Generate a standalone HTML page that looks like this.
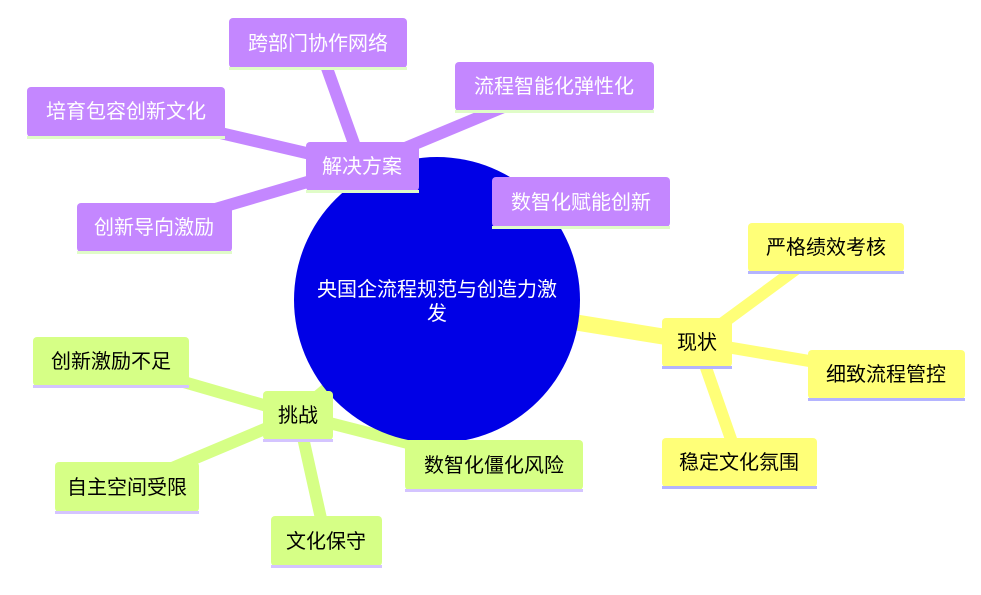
<!DOCTYPE html>
<html><head><meta charset="utf-8"><style>
body{margin:0;background:#fff;width:981px;height:590px;overflow:hidden}
svg text{font-family:"Liberation Sans","Noto Sans CJK SC",sans-serif;font-size:20px;text-anchor:middle;dominant-baseline:central}
</style></head><body>
<svg width="981" height="590" xmlns="http://www.w3.org/2000/svg">
<g stroke-linecap="round">
<g stroke="#c487ff">
<line x1="437" y1="300" x2="362" y2="166" stroke-width="16"/>
<line x1="362" y1="166" x2="318" y2="43" stroke-width="12"/>
<line x1="362" y1="166" x2="554" y2="86" stroke-width="12"/>
<line x1="362" y1="166" x2="126" y2="111" stroke-width="12"/>
<line x1="362" y1="166" x2="154" y2="227" stroke-width="12"/>
</g>
<g stroke="#ffff78">
<line x1="437" y1="300" x2="697" y2="342" stroke-width="16"/>
<line x1="697" y1="342" x2="826" y2="247" stroke-width="12"/>
<line x1="697" y1="342" x2="886" y2="374" stroke-width="12"/>
<line x1="697" y1="342" x2="739" y2="462" stroke-width="12"/>
</g>
<g stroke="#d6ff86">
<line x1="437" y1="300" x2="298" y2="415" stroke-width="16"/>
<line x1="298" y1="415" x2="111" y2="361" stroke-width="12"/>
<line x1="298" y1="415" x2="127" y2="487" stroke-width="12"/>
<line x1="298" y1="415" x2="326" y2="541" stroke-width="12"/>
<line x1="298" y1="415" x2="494" y2="465" stroke-width="12"/>
</g>
</g>
<circle cx="437" cy="300" r="143" fill="#0000e6"/>
<text x="437" y="290" fill="#fff">央国企流程规范与创造力激</text>
<text x="437" y="314" fill="#fff">发</text>

<g fill="#c487ff">
<rect x="229" y="18" width="178" height="50" rx="4"/>
<rect x="455" y="62" width="199" height="49" rx="4"/>
<rect x="27" y="87" width="198" height="50" rx="4"/>
<rect x="306" y="142" width="113" height="49" rx="4"/>
<rect x="492" y="177" width="178" height="50" rx="4"/>
<rect x="77" y="203" width="155" height="49" rx="4"/>
</g>
<g fill="#e0fcc8">
<rect x="229" y="67" width="178" height="3"/>
<rect x="455" y="110" width="199" height="3"/>
<rect x="27" y="136" width="198" height="3"/>
<rect x="306" y="190" width="113" height="3"/>
<rect x="492" y="226" width="178" height="3"/>
<rect x="77" y="251" width="155" height="3"/>
</g>
<g fill="#fff">
<text x="318" y="44">跨部门协作网络</text>
<text x="554" y="87">流程智能化弹性化</text>
<text x="126" y="112">培育包容创新文化</text>
<text x="362" y="167">解决方案</text>
<text x="581" y="203">数智化赋能创新</text>
<text x="154" y="228">创新导向激励</text>
</g>

<g fill="#ffff78">
<rect x="748" y="223" width="156" height="49" rx="4"/>
<rect x="662" y="318" width="70" height="49" rx="4"/>
<rect x="808" y="350" width="157" height="49" rx="4"/>
<rect x="662" y="438" width="155" height="49" rx="4"/>
</g>
<g fill="#b4b4ff">
<rect x="748" y="271" width="156" height="3"/>
<rect x="662" y="366" width="70" height="3"/>
<rect x="808" y="398" width="157" height="3"/>
<rect x="662" y="486" width="155" height="3"/>
</g>
<g fill="#000">
<text x="826" y="248">严格绩效考核</text>
<text x="697" y="343">现状</text>
<text x="886" y="375">细致流程管控</text>
<text x="739" y="463">稳定文化氛围</text>
</g>

<g fill="#d6ff86">
<rect x="33" y="337" width="156" height="49" rx="4"/>
<rect x="263" y="391" width="70" height="49" rx="4"/>
<rect x="55" y="462" width="144" height="50" rx="4"/>
<rect x="405" y="440" width="178" height="50" rx="4"/>
<rect x="271" y="516" width="111" height="50" rx="4"/>
</g>
<g fill="#d4c4ff">
<rect x="33" y="385" width="156" height="3"/>
<rect x="263" y="439" width="70" height="3"/>
<rect x="55" y="511" width="144" height="3"/>
<rect x="405" y="489" width="178" height="3"/>
<rect x="271" y="565" width="111" height="3"/>
</g>
<g fill="#000">
<text x="111" y="362">创新激励不足</text>
<text x="298" y="416">挑战</text>
<text x="127" y="488">自主空间受限</text>
<text x="494" y="466">数智化僵化风险</text>
<text x="326" y="542">文化保守</text>
</g>
</svg>
</body></html>
